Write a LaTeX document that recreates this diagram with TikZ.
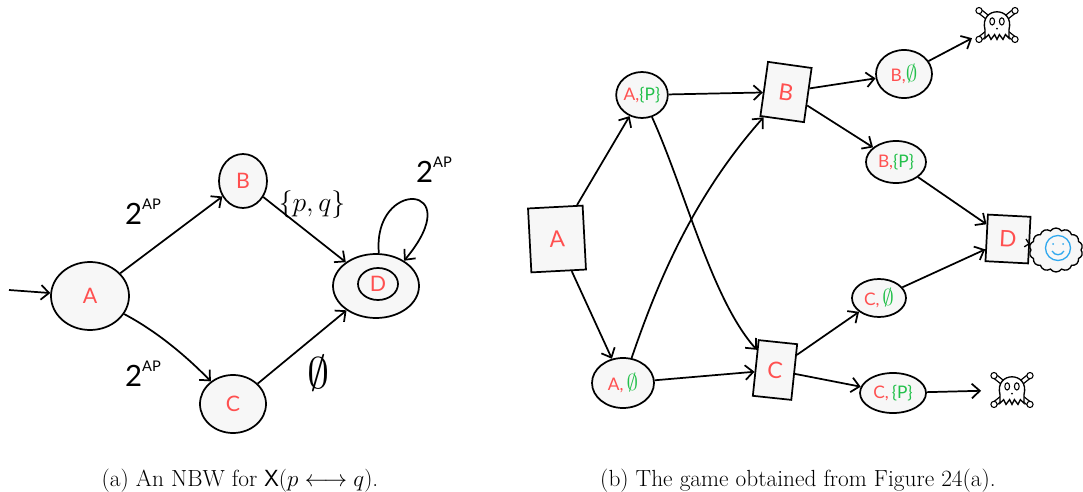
\documentclass[tikz,border=0pt]{standalone}
\usepackage{fontspec}
\usetikzlibrary{arrows.meta,shapes.geometric,shapes.symbols}
\newfontfamily\hand{Lato}
\definecolor{lab}{HTML}{FF5050}
\definecolor{grn}{HTML}{22C04A}
\definecolor{sky}{HTML}{30A8EE}
\definecolor{paper}{HTML}{F7F7F7}
\newcommand{\gempty}{\textcolor{grn}{\fontsize{17}{17}\selectfont$\emptyset$}}

\tikzset{
  state/.style={ellipse,draw,line width=1.3pt,fill=paper,inner sep=0pt,
    font=\hand\fontsize{16}{16}\selectfont,text=lab},
  gbox/.style={rectangle,draw,line width=1.3pt,fill=paper,inner sep=0pt,
    font=\hand\fontsize{17}{17}\selectfont,text=lab},
  pairnode/.style={ellipse,draw,line width=1.3pt,fill=paper,inner sep=0pt,
    font=\hand\fontsize{13}{13}\selectfont,text=lab},
  arr/.style={line width=1.3pt,-{Straight Barb[length=6pt,width=11pt]}},
  elabel/.style={font=\hand\fontsize{18}{18}\selectfont,inner sep=0pt},
  caption/.style={font=\fontsize{17.5}{19}\selectfont,inner sep=0pt},
  sink/.style={circle,draw=none,inner sep=0pt},
  skull/.pic={
    \begin{scope}[scale=1.2]
    \draw[line width=4.2pt,line cap=round] (-15,-12) -- (15,12) (15,-12) -- (-15,12);
    \draw[line width=2.2pt,white,line cap=round] (-15,-12) -- (15,12) (15,-12) -- (-15,12);
    \foreach \px/\py in {-15/-12,15/12,15/-12,-15/12}
      \draw[fill=white,line width=0.8pt] (\px,\py) circle (2.6);
    \draw[fill=white,line width=1pt]
      (-10,4) .. controls (-15,-16) and (15,-16) .. (10,4)
      -- (10,11) -- (7,8) -- (5,12) -- (2,8) -- (0,12) -- (-2,8) -- (-5,12) -- (-7,8) -- (-10,11) -- cycle;
    \draw[line width=0.8pt] (-4,-3) ellipse (2 and 3) (4,-3) ellipse (2 and 3);
    \fill (0,3) circle (0.9);
    \end{scope}
  }
}

\begin{document}
\begin{tikzpicture}[x=0.75pt,y=-0.75pt]
\useasboundingbox (0,0) rectangle (1083,492);

% ---------- (a) the automaton ----------
\node[state,minimum width=58.5pt,minimum height=51pt] (A1) at (90,296) {A};
\node[state,minimum width=36pt,minimum height=40.5pt] (B1) at (243,181) {B};
\node[state,minimum width=49.5pt,minimum height=43.5pt] (C1) at (233,404) {C};
\node[state,minimum width=64.5pt,minimum height=48pt] (D1) at (376,286) {};
\node[state,minimum width=30pt,minimum height=24pt] (D1in) at (378,284) {D};
\coordinate (init) at (9,290);

\draw[arr] (init) -- (A1);
\draw[arr] (A1) -- (B1);
\draw[arr] (A1) .. controls (160,333) and (190,360) .. (C1);
\draw[arr] (B1) -- (D1);
\draw[arr] (C1) -- (D1);
\draw[arr] (D1.85) .. controls (372,178) and (470,182) .. (D1.42);

\node[elabel] (lab1) at (143,212) {{\fontsize{22}{22}\selectfont 2}\raisebox{11pt}{\fontsize{11}{11}\selectfont AP}};
\node[elabel] (lab2) at (143,374) {{\fontsize{22}{22}\selectfont 2}\raisebox{11pt}{\fontsize{11}{11}\selectfont AP}};
\node[elabel] (lab3) at (434,170) {{\fontsize{22}{22}\selectfont 2}\raisebox{11pt}{\fontsize{11}{11}\selectfont AP}};
\node[elabel,font=\fontsize{20}{20}\selectfont] (lab4) at (312,205) {$\{p,q\}$};
\node[elabel,scale=1.6] (lab5) at (319,373) {\fontsize{20}{20}\selectfont$\emptyset$};

% ---------- (b) the game ----------
\node[gbox,minimum width=41pt,minimum height=48pt,rotate=3] (Ab) at (557,239) {A};
\node[pairnode,minimum width=33pt,minimum height=34.5pt] (apb) at (642,95) {A,\textcolor{grn}{\{P\}}};
\node[pairnode,minimum width=46.5pt,minimum height=37.5pt] (aph) at (623,383) {A,\,\gempty};
\node[gbox,minimum width=33pt,minimum height=41pt,rotate=-8] (Bb) at (786,92) {B};
\node[gbox,minimum width=29pt,minimum height=42pt,rotate=-6] (Cb) at (775,370) {C};
\node[pairnode,minimum width=42pt,minimum height=36pt] (bph) at (904,74) {B,\gempty};
\node[pairnode,minimum width=45pt,minimum height=31.5pt] (bpp) at (896,162) {B,\textcolor{grn}{\{P\}}};
\node[gbox,minimum width=32pt,minimum height=35pt,rotate=-3] (Db) at (1008,239) {D};
\node[pairnode,minimum width=40.5pt,minimum height=28.5pt] (cph) at (879,298) {C,\,\gempty};
\node[pairnode,minimum width=49.5pt,minimum height=30pt] (cpp) at (893,393) {C,\,\textcolor{grn}{\{P\}}};

\node[sink,minimum size=42pt] (skA) at (997,25) {};
\node[sink,minimum size=46pt] (skB) at (1012,390) {};
\pic at (997,25) {skull};
\pic at (1012,390) {skull};

\node[cloud,cloud puffs=14,cloud puff arc=110,aspect=1.2,draw,line width=1pt,
      fill=paper,minimum width=40pt,minimum height=33pt,inner sep=0pt] (happy) at (1056,250) {};
\draw[sky,line width=1pt] (1058,248) circle (12.5);
\fill[sky] (1053,244) circle (1) (1063,244) circle (1);
\draw[sky,line width=1pt] (1052,251) .. controls (1055,256) and (1061,256) .. (1064,251);

\draw[arr] (Ab) -- (apb);
\draw[arr] (Ab) -- (aph);
\draw[arr] (apb) -- (Bb);
\draw[arr] (apb) .. controls (685,190) and (712,300) .. (Cb);
\draw[arr] (aph) .. controls (655,290) and (690,200) .. (Bb);
\draw[arr] (aph) -- (Cb);
\draw[arr] (Bb) -- (bph);
\draw[arr] (Bb) -- (bpp);
\draw[arr] (bph) -- (skA);
\draw[arr] (bpp) -- (Db);
\draw[arr] (Cb) -- (cph);
\draw[arr] (Cb) -- (cpp);
\draw[arr] (cpp) -- (skB);
\draw[arr] (cph) -- (Db);
\draw[line width=1pt,-{Straight Barb[length=3pt,width=6pt]}] (happy) -- (Db);

% ---------- captions ----------
\node[caption] (capa) at (240,481) {(a)~An NBW for $\mathsf{X}(p \longleftrightarrow q)$.};
\node[caption] (capb) at (798,481) {(b)~The game obtained from Figure 24(a).};
\end{tikzpicture}
\end{document}
